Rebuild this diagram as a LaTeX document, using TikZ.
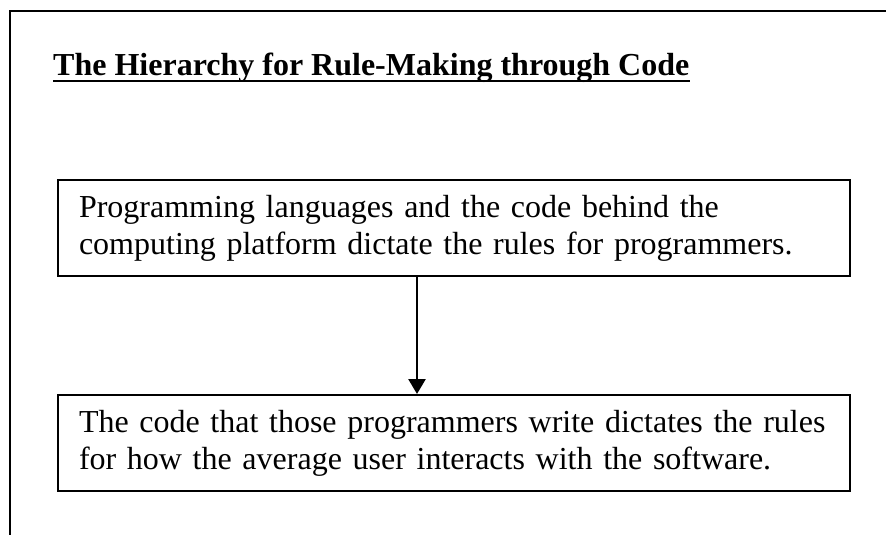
\documentclass[tikz,border=0pt]{standalone}
\usepackage{fontspec}
\setmainfont{Liberation Serif}
\usetikzlibrary{arrows.meta}
\tikzset{
  frameline/.style={line width=2pt, black},
  textbox/.style={draw, line width=2pt, rectangle, anchor=north west,
    minimum width=792pt, minimum height=96pt, text width=750pt,
    inner xsep=21pt, inner ysep=0pt, align=left,
    font=\fontsize{32pt}{36.8pt}\selectfont},
  flowarrow/.style={line width=2.7pt, -{Triangle[width=17pt,length=15pt]}},
  titletext/.style={inner sep=0pt, anchor=base west,
    font=\fontsize{32pt}{36.8pt}\selectfont\bfseries}
}
\begin{document}
\begin{tikzpicture}[x=1pt,y=-1pt]
\useasboundingbox (0,0) rectangle (886,535);
\fill[white] (0,0) rectangle (886,535);
% outer frame (only top and left visible)
\draw[frameline] (10,540) -- (10,11) -- (890,11);
% title
\node[titletext] (title) at (53,76) {The Hierarchy for Rule-Making through Code};
\draw[line width=2.6pt] ([yshift=-5pt]title.base west) -- ([yshift=-5pt]title.base east);
% boxes
\node[textbox] (top) at (57,179) {Programming languages and the code behind the\\computing platform dictate the rules for programmers.};
\node[textbox] (bottom) at (57,394) {The code that those programmers write dictates the rules\\for how the average user interacts with the software.};
% arrow
\coordinate (ax) at (417,0);
\draw[flowarrow] (top.south -| ax) -- (bottom.north -| ax);
\end{tikzpicture}
\end{document}
